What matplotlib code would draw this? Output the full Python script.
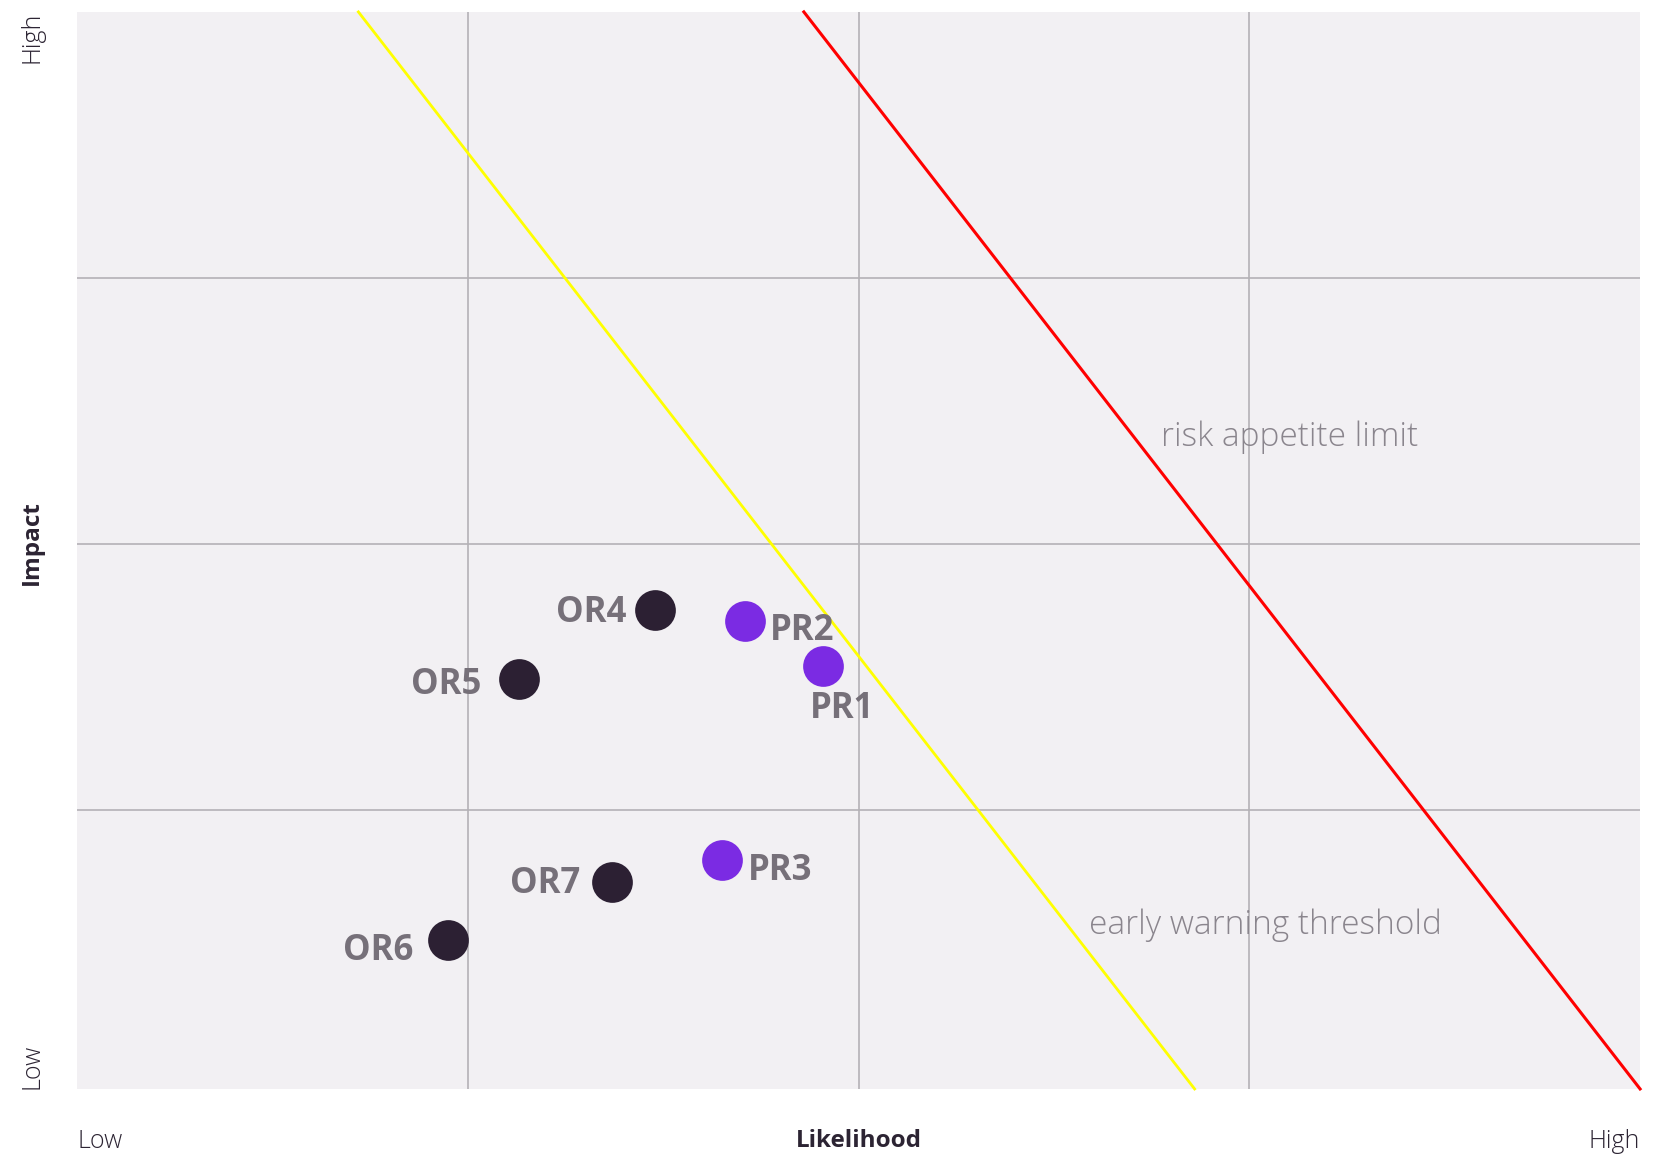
import matplotlib
matplotlib.use("Agg")
import matplotlib.pyplot as plt

# risk positions (likelihood, impact) on a 0-4 grid
names = ["OR4", "OR5", "OR6", "OR7", "PR1", "PR2", "PR3"]
likelihood = [1.48, 1.13, 0.95, 1.37, 1.91, 1.71, 1.65]
impact = [1.75, 1.49, 0.51, 0.73, 1.54, 1.71, 0.81]
kind = ["OR", "OR", "OR", "OR", "PR", "PR", "PR"]

# threshold lines, end points in data units
warn_x = [0.72, 2.86]
warn_y = [4.0, -0.05]
limit_x = [1.86, 4.0]
limit_y = [4.0, -0.05]

dark = "#2c2033"
purple = "#7b2be3"
label_col = "#767079"
note_col = "#8a858d"
bg = "#f2f0f3"
font = "Open Sans"

# label offsets in points (dx, dy, ha, va)
offsets = {
    "OR4": (-21, -2, "right", "center"),
    "OR5": (-27, -4, "right", "center"),
    "OR6": (-25, -8, "right", "center"),
    "OR7": (-23, -2, "right", "center"),
    "PR1": (-10, -31, "left", "center"),
    "PR2": (18, -7, "left", "center"),
    "PR3": (19, -8, "left", "center"),
}

fig = plt.figure(figsize=(16.71, 11.56), dpi=100)
ax = fig.add_axes([0.0461, 0.058, 0.9354, 0.9317])
ax.set_facecolor(bg)
ax.set_xlim(0, 4)
ax.set_ylim(-0.05, 4)
for s in ax.spines.values():
    s.set_visible(False)
ax.set_xticks([1, 2, 3])
ax.set_yticks([1, 2, 3])
ax.tick_params(length=0, labelbottom=False, labelleft=False)
ax.grid(True, color="#b4b1b6", linewidth=1.2)
ax.set_axisbelow(True)

ax.plot(warn_x, warn_y, color="#ffff00", linewidth=2, clip_on=False)
ax.plot(limit_x, limit_y, color="#ff0000", linewidth=2.2, clip_on=False)

ax.text(2.775, 2.40, "risk appetite limit", color=note_col, fontsize=24,
        fontfamily=font, fontweight="light", va="center", ha="left")
ax.text(2.59, 0.565, "early warning threshold", color=note_col, fontsize=24,
        fontfamily=font, fontweight="light", va="center", ha="left")

for n, x, y, k in zip(names, likelihood, impact, kind):
    ax.scatter(x, y, s=860, color=dark if k == "OR" else purple, zorder=3,
               linewidths=0)
    dx, dy, ha, va = offsets[n]
    ax.annotate(n, (x, y), xytext=(dx, dy), textcoords="offset points",
                ha=ha, va=va, fontsize=25, fontweight="bold", color=label_col,
                fontfamily=font)

ax_col = "#2c2433"
fig.text(77 / 1671, 1 - 1141 / 1156, "Low", ha="left", va="center",
         fontsize=18, color=ax_col, fontfamily=font, fontweight="light")
fig.text(1640 / 1671, 1 - 1141 / 1156, "High", ha="right", va="center",
         fontsize=18, color=ax_col, fontfamily=font, fontweight="light")
fig.text(859 / 1671, 1 - 1141 / 1156, "Likelihood", ha="center", va="center",
         fontsize=17.5, color=ax_col, fontfamily=font, fontweight="bold")
fig.text(32 / 1671, 1 - 12 / 1156, "High", ha="center", va="top", rotation=90,
         fontsize=18, color=ax_col, fontfamily=font, fontweight="light")
fig.text(32 / 1671, 1 - 1089 / 1156, "Low", ha="center", va="bottom", rotation=90,
         fontsize=18, color=ax_col, fontfamily=font, fontweight="light")
fig.text(32 / 1671, 1 - 543 / 1156, "Impact", ha="center", va="center", rotation=90,
         fontsize=17.5, color=ax_col, fontfamily=font, fontweight="bold")

fig.savefig("out.png", dpi=100, facecolor="white")
